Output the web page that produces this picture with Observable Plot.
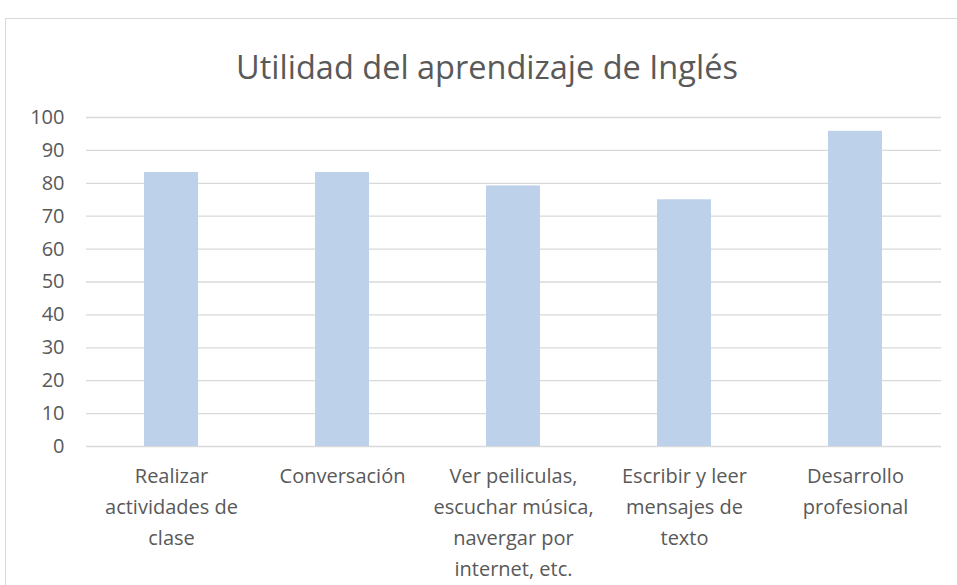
<!DOCTYPE html>
<html><head><meta charset="utf-8">
<script src="https://cdn.jsdelivr.net/npm/d3@7"></script>
<script src="https://cdn.jsdelivr.net/npm/@observablehq/plot@0.6"></script>
<style>
html,body{margin:0;padding:0;background:#fff;overflow:hidden;}
#wrap{position:relative;width:957px;height:585px;font-family:"Open Sans",sans-serif;}
#frame{position:absolute;left:5px;top:18px;width:980px;height:620px;border:1px solid #d9d9d9;box-sizing:border-box;}
#title{position:absolute;left:0;top:45px;width:974px;text-align:center;font-size:32.5px;color:#595959;line-height:44px;}
#chart{position:absolute;left:0;top:0;}
</style></head>
<body><div id="wrap"><div id="frame"></div><div id="title">Utilidad del aprendizaje de Inglés</div><div id="chart"></div></div>
<script>
const categories = ["Realizar\nactividades de\nclase", "Conversación", "Ver peiliculas,\nescuchar música,\nnavergar por\ninternet, etc.", "Escribir y leer\nmensajes de\ntexto", "Desarrollo\nprofesional"];
const values = [83.3, 83.3, 79.2, 75, 95.8];
const yTicks = [0,10,20,30,40,50,60,70,80,90,100];
const data = categories.map((c,i)=>({cat:c, v:values[i]}));
const chart = Plot.plot({
  width: 957, height: 585,
  marginTop: 117, marginBottom: 139, marginLeft: 86, marginRight: 16,
  style: {fontFamily: "'Open Sans', sans-serif", fontSize: "20px", color: "#595959", background: "transparent"},
  x: {domain: categories, paddingInner: 0.684, paddingOuter: 0.342, label: null},
  y: {domain: [0,100], label: null},
  marks: [
    Plot.ruleY(yTicks, {stroke: "#d9d9d9", strokeWidth: 1.3}),
    Plot.barY(data, {x: "cat", y: "v", fill: "#bdd1ea"}),
    Plot.axisY(yTicks, {tickSize: 0, tickPadding: 22, fontSize: 20, fill: "#595959", label: null}),
    Plot.axisX({tickSize: 0, tickPadding: 14, fontSize: 20, fill: "#595959", lineHeight: 1.55, label: null, textAnchor: "middle"})
  ]
});
document.getElementById("chart").appendChild(chart);
</script></body></html>
